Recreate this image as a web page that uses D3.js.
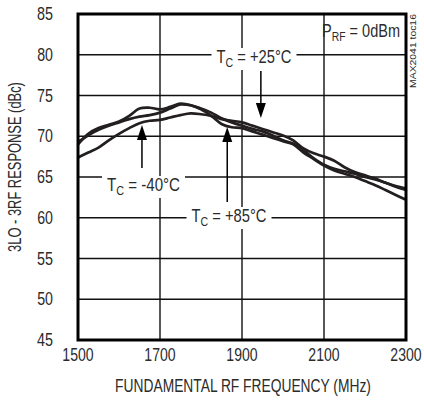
<!DOCTYPE html>
<html><head><meta charset="utf-8">
<script src="https://cdn.jsdelivr.net/npm/d3@7"></script>
<style>
body{margin:0;background:#fff;}
svg{display:block;}
text{font-family:"Liberation Sans Narrow","Arial Narrow","Liberation Sans",Arial,sans-serif;fill:#2b2b2b;}
</style></head>
<body><svg id="c" width="424" height="402"></svg>
<script>
const freqs = [1500,1525,1550,1575,1600,1625,1650,1675,1700,1725,1750,1775,1800,1825,1850,1875,1900,1925,1950,1975,2000,2025,2050,2075,2100,2125,2150,2175,2200,2225,2250,2275,2300];
const tempMinus40 = [67.4,68.0,68.6,69.5,70.3,71.0,71.6,71.9,72.0,72.3,72.6,72.8,72.7,72.5,72.1,71.9,71.7,71.3,70.9,70.5,70.1,69.5,68.5,67.9,67.5,67.0,66.2,65.6,65.2,64.8,64.3,63.9,63.6];
const temp25 = [69.3,70.1,70.8,71.3,71.7,72.1,72.4,72.6,72.9,73.4,73.9,73.8,73.4,72.9,72.2,71.7,71.3,70.9,70.6,70.1,69.5,69.1,68.3,67.3,66.5,66.0,65.7,65.4,65.0,64.7,64.3,63.8,63.4];
const temp85 = [69.0,70.3,71.0,71.4,71.8,72.5,73.4,73.5,73.3,73.6,74.0,73.8,73.3,72.5,71.5,71.1,71.0,70.6,70.2,69.8,69.4,69.0,68.0,67.2,66.4,65.8,65.4,65.0,64.5,64.0,63.4,62.8,62.2];
const xTicks = [1500,1700,1900,2100,2300];
const yTicks = [45,50,55,60,65,70,75,80,85];

const svg = d3.select("#c");
const L=78, R=406, T=14, B=340;
const x = d3.scaleLinear().domain([1500,2300]).range([L,R]);
const y = d3.scaleLinear().domain([45,85]).range([B,T]);

// text fitted to a target width (condensed look)
function fitText(px, py, anchor, targetW, size, build, opts={}){
  const g = svg.append("g");
  const bg = opts.bg ? g.append("rect").attr("fill","#fff") : null;
  const t = g.append("text").attr("x",0).attr("y",0).attr("text-anchor",anchor).attr("font-size",size);
  build(t);
  const bb = t.node().getBBox();
  const sx = targetW / bb.width;
  g.attr("transform",`translate(${px},${py})${opts.rot?` rotate(${opts.rot})`:""} scale(${sx},1)`);
  if(bg){
    const pad = opts.pad/sx;
    bg.attr("x",bb.x-pad).attr("y",bb.y+1).attr("width",bb.width+2*pad).attr("height",bb.height-1);
  }
  return g;
}
function simple(s){ return t=>t.text(s); }
function subLabel(main, sub, rest){
  return t=>{
    t.append("tspan").text(main);
    t.append("tspan").attr("font-size",12.5).attr("dy",4).text(sub);
    t.append("tspan").attr("dy",-4).text(rest);
  };
}

// grid
svg.append("g").selectAll("line").data(xTicks.slice(1,-1)).join("line")
  .attr("x1",d=>x(d)).attr("x2",d=>x(d)).attr("y1",T).attr("y2",B)
  .attr("stroke","#111").attr("stroke-width",1.4);
svg.append("g").selectAll("line").data(yTicks.slice(1,-1)).join("line")
  .attr("y1",d=>y(d)).attr("y2",d=>y(d)).attr("x1",L).attr("x2",R)
  .attr("stroke","#111").attr("stroke-width",1.4);

// tick labels
xTicks.forEach(d=>fitText(x(d), B+21, "middle", 31.5, 17.5, simple(String(d))));
yTicks.forEach(d=>fitText(L-25, y(d)+6, "end", 16, 17.5, simple(String(d))));

// axis titles
fitText((L+R)/2+1, 392, "middle", 256, 17.5, simple("FUNDAMENTAL RF FREQUENCY (MHz)"));
fitText(21, 167, "middle", 170, 17.5, simple("3LO - 3RF RESPONSE (dBc)"), {rot:-90});

// curves
const line = d3.line().x((d,i)=>x(freqs[i])).y(d=>y(d)).curve(d3.curveCatmullRom);
[tempMinus40,temp25,temp85].forEach(s=>{
  svg.append("path").attr("d",line(s)).attr("fill","none")
    .attr("stroke","#231f20").attr("stroke-width",2.7).attr("stroke-linejoin","round");
});

// frame
svg.append("rect").attr("x",L).attr("y",T).attr("width",R-L).attr("height",B-T)
  .attr("fill","none").attr("stroke","#000").attr("stroke-width",3);

// curve labels (white background breaks the grid line)
fitText(254, 63, "middle", 75, 17.5, subLabel("T","C"," = +25°C"), {bg:true, pad:5});
fitText(143.5, 191, "middle", 73, 17.5, subLabel("T","C"," = -40°C"), {bg:true, pad:5});
fitText(229, 222, "middle", 75, 17.5, subLabel("T","C"," = +85°C"), {bg:true, pad:5});

// PRF label
fitText(400, 37, "end", 78, 17.5, subLabel("P","RF"," = 0dBm"));

// watermark
fitText(416, 51, "middle", 74, 9.5, simple("MAX2041 toc16"), {rot:-90});

// arrows
function arrow(xf, yFrom, yTip){
  const dir = yTip > yFrom ? 1 : -1;
  const headLen = 15, headW = 5;
  const xp = x(xf);
  svg.append("line").attr("x1",xp).attr("x2",xp).attr("y1",yFrom).attr("y2",yTip - dir*headLen)
    .attr("stroke","#000").attr("stroke-width",1.5);
  svg.append("path").attr("d",`M${xp},${yTip} L${xp-headW},${yTip-dir*headLen} L${xp+headW},${yTip-dir*headLen} Z`)
    .attr("fill","#000");
}
arrow(1946, 71, 118);
arrow(1656, 168, 125);
arrow(1864, 202, 127);
</script></body></html>
